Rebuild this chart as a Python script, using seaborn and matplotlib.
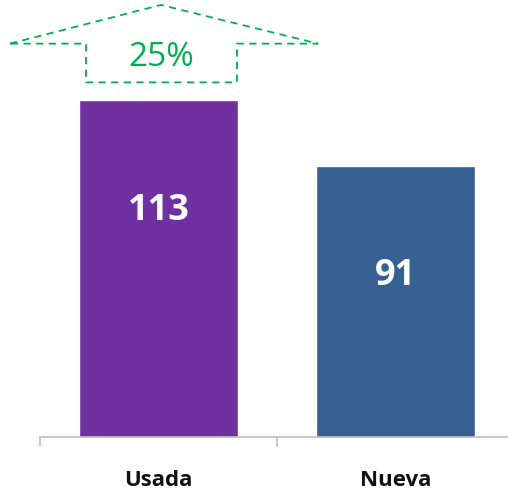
import pandas as pd
import seaborn as sns
import matplotlib.pyplot as plt
from matplotlib.patches import Polygon

# datos
categorias = ['Usada', 'Nueva']
valores = [113, 91]
colores = ['#7030A0', '#366092']
crecimiento = '25%'

sns.set_theme(style="white")
plt.rcParams['font.family'] = ['Open Sans', 'DejaVu Sans']

df = pd.DataFrame({'tipo': categorias, 'valor': valores})

fig = plt.figure(figsize=(5.08, 4.9), dpi=100)
ax = fig.add_axes([40 / 508, 53 / 490, 474 / 508, 447 / 490])

sns.barplot(data=df, x='tipo', y='valor', hue='tipo', palette=colores,
            width=0.67, saturation=1, legend=False, ax=ax)

ax.set_xlim(-0.5, 1.5)
ax.set_ylim(0, 150)

# etiquetas dentro de las barras
for i, v in enumerate(valores):
    ax.text(i, v - 37, str(v), ha='center', va='center', color='white',
            fontsize=26, fontweight='bold')

# ejes
for lado in ['top', 'right', 'left']:
    ax.spines[lado].set_visible(False)
ax.spines['bottom'].set_color('#bfbfbf')
ax.spines['bottom'].set_linewidth(1.2)
ax.set_yticks([])
ax.set_xticks([-0.5, 0.5, 1.5], minor=False)
ax.set_xticklabels([])
ax.tick_params(axis='x', which='major', direction='out', length=7, width=1.2,
               color='#bfbfbf', bottom=True)
ax.set_xticks([0, 1], minor=True)
ax.set_xticklabels(categorias, minor=True, fontsize=16, fontweight='bold', color='#111111')
ax.tick_params(axis='x', which='minor', length=0, pad=24)
ax.set_xlabel('')
ax.set_ylabel('')

# flecha de crecimiento (punteada)
base = valores[0]
flecha = [(-0.627, base + 19), (0.01, base + 32), (0.673, base + 19),
          (0.331, base + 19), (0.331, base + 6), (-0.306, base + 6),
          (-0.306, base + 19)]
ax.add_patch(Polygon(flecha, closed=True, fill=False, edgecolor='#00B050',
                     linestyle=(0, (4, 3)), linewidth=1.3, clip_on=False))
ax.text(0.01, base + 14.5, crecimiento, ha='center', va='center',
        color='#00B050', fontsize=24)

fig.savefig('out.png', dpi=100)
